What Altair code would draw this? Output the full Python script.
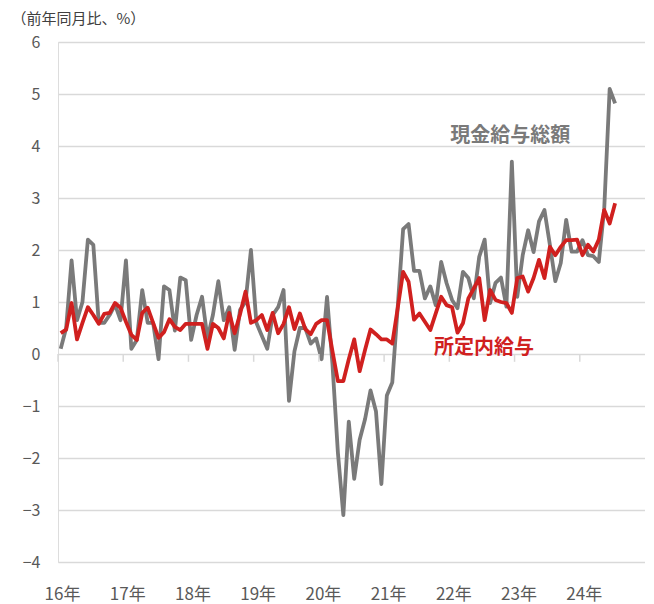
import altair as alt
import pandas as pd

# Year labels on the x axis (first month of each year)
year_labels = ["16年", "17年", "18年", "19年", "20年", "21年", "22年", "23年", "24年"]
start_year = 2016

# 現金給与総額 (前年同月比, %) monthly from 2016-01 to 2024-07
cash_total = [
    0.1, 0.5, 1.8, 0.65, 1.0, 2.2, 2.1, 0.6, 0.6, 0.75, 0.95, 0.65,
    1.8, 0.1, 0.27, 1.23, 0.6, 0.6, -0.1, 1.3, 1.23, 0.45, 1.47, 1.42,
    0.27, 0.75, 1.1, 0.3, 0.75, 1.4, 0.65, 0.9, 0.08, 0.85, 1.0, 2.0,
    0.6, 0.35, 0.1, 0.75, 0.9, 1.23, -0.9, 0.05, 0.5, 0.5, 0.2, 0.3,
    -0.1, 1.1, -0.2, -1.9, -3.1, -1.3, -2.4, -1.65, -1.25, -0.7, -1.1, -2.5,
    -0.8, -0.55, 0.9, 2.4, 2.5, 1.6, 1.6, 1.07, 1.3, 0.94, 1.77, 1.36,
    1.04, 0.88, 1.58, 1.46, 1.07, 1.87, 2.2, 0.98, 1.37, 1.47, 0.91, 3.7,
    1.1, 1.9, 2.38, 1.96, 2.55, 2.77, 2.1, 1.4, 1.75, 2.58, 1.97, 1.97,
    2.19, 1.9, 1.88, 1.77, 2.8, 5.1, 4.82,
]

# 所定内給与 (前年同月比, %)
scheduled = [
    0.4, 0.47, 0.98, 0.28, 0.6, 0.9, 0.75, 0.58, 0.77, 0.79, 0.98, 0.89,
    0.62, 0.37, 0.27, 0.79, 0.89, 0.6, 0.31, 0.42, 0.67, 0.52, 0.46, 0.58,
    0.58, 0.58, 0.58, 0.1, 0.58, 0.5, 0.3, 0.79, 0.4, 0.77, 1.2, 0.6,
    0.65, 0.75, 0.46, 0.79, 0.4, 0.58, 0.9, 0.48, 0.78, 0.48, 0.38, 0.58,
    0.65, 0.65, 0.05, -0.52, -0.52, -0.1, 0.28, -0.33, 0.08, 0.47, 0.38, 0.28,
    0.28, 0.2, 0.88, 1.58, 1.39, 0.66, 0.78, 0.62, 0.46, 0.78, 1.1, 0.94,
    0.9, 0.41, 0.59, 1.07, 1.26, 1.46, 0.65, 1.23, 1.04, 1.0, 0.98, 0.79,
    1.46, 1.49, 1.2, 1.46, 1.81, 1.46, 2.06, 1.9, 2.06, 2.19, 2.19, 2.2,
    1.9, 2.1, 1.97, 2.2, 2.77, 2.51, 2.9,
]

# Annotation labels
label_cash = "現金給与総額"
label_sched = "所定内給与"

GRAY = "#7a7a7a"
RED = "#d0201f"
GRID = "#d9d9d9"
FONT = "Noto Sans CJK JP"

n = len(cash_total)
df = pd.DataFrame({
    "pos": [i + 0.5 for i in range(n)],
    "cash": cash_total,
    "sched": scheduled,
})

year_pos = [12 * i for i in range(len(year_labels))]
label_expr = "format((" + str(start_year) + " + datum.value / 12) % 100, '02d') + '年'"

x_scale = alt.Scale(domain=[0, 12 * len(year_labels)], nice=False, zero=False)
y_scale = alt.Scale(domain=[-4, 6], nice=False)

x_axis = alt.Axis(
    values=year_pos, labelExpr=label_expr, grid=False, domain=False, ticks=False,
    labelFont=FONT, labelFontSize=17, labelColor="#595959", labelPadding=24,
    labelOffset=4, labelFlush=False, title=None,
)
y_axis = alt.Axis(
    values=list(range(-4, 7)), grid=True, gridColor=GRID, gridWidth=1.5,
    domain=False, ticks=False, labelFont=FONT, labelFontSize=16,
    labelColor="#595959", labelPadding=18, format="d",
    title="（前年同月比、%）", titleAngle=0, titleAlign="left",
    titleBaseline="middle", titleX=-47, titleY=-24, titleFont=FONT,
    titleFontSize=15, titleFontWeight="normal", titleColor="#404040",
)

X = lambda f: alt.X(f, scale=x_scale, axis=x_axis)
Y = lambda f: alt.Y(f, scale=y_scale, axis=y_axis)

base = alt.Chart(df)

gray_line = base.mark_line(color=GRAY, strokeWidth=3.8, strokeJoin="round").encode(
    x=X("pos:Q"), y=Y("cash:Q"),
)
red_line = base.mark_line(color=RED, strokeWidth=3.8, strokeJoin="round").encode(
    x=X("pos:Q"), y=Y("sched:Q"),
)

ticks_df = pd.DataFrame({"pos": year_pos, "y0": [0.0] * len(year_pos), "y1": [-0.15] * len(year_pos)})
tick_marks = alt.Chart(ticks_df).mark_rule(color=GRID, strokeWidth=1.5).encode(
    x=X("pos:Q"), y=Y("y0:Q"), y2="y1:Q",
)

ann_df = pd.DataFrame({
    "pos": [83.2, 78.4],
    "val": [4.2, 0.12],
    "txt": [label_cash, label_sched],
    "col": [GRAY, RED],
})
annotations = alt.Chart(ann_df).mark_text(
    font=FONT, fontSize=20, fontWeight="bold", align="center", baseline="middle"
).encode(
    x=X("pos:Q"), y=Y("val:Q"),
    text="txt:N",
    color=alt.Color("col:N", scale=None),
)

chart = alt.layer(gray_line, red_line, tick_marks, annotations).properties(
    width=587, height=520,
    padding={"left": 50, "top": 34, "right": 0, "bottom": 42},
    autosize=alt.AutoSizeParams(type="none"),
).configure_view(stroke="transparent", strokeWidth=0).configure(background="white")

chart.save("out.html", embed_options={"renderer": "svg", "actions": False})
